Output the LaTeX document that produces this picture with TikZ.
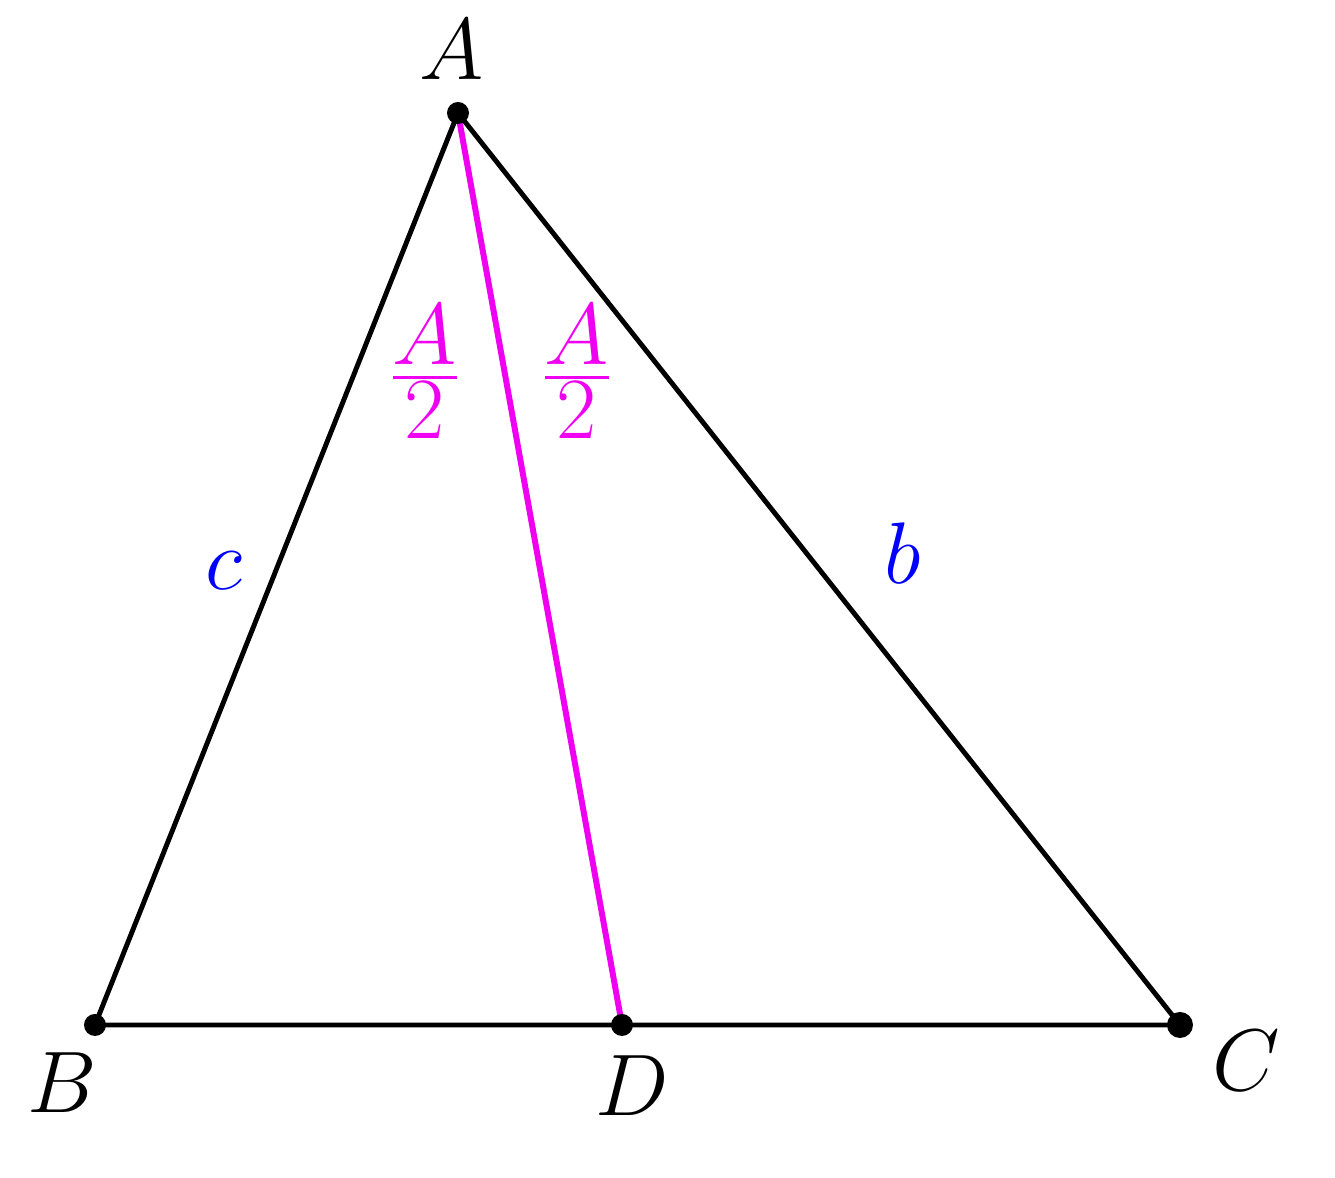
\documentclass[tikz,border=0pt]{standalone}
\usepackage{amsmath}
\usetikzlibrary{positioning}
\definecolor{bisect}{RGB}{240,0,240}
\definecolor{side}{RGB}{0,0,255}
\begin{document}
\begin{tikzpicture}[x=1cm,y=1cm,
		pt/.style={circle,fill=black,inner sep=0pt,minimum size=0.22cm},
		lbl/.style={font=\fontsize{25.5}{30}\selectfont},
		sidelbl/.style={side,font=\fontsize{29}{34}\selectfont},
		half/.style={bisect,font=\fontsize{37}{44}\selectfont}]
		\useasboundingbox (0,0) rectangle (13.35,11.78);
		% vertices and foot of the bisector
		\coordinate (A) at (4.58,10.65);
		\coordinate (B) at (0.95,1.53);
		\coordinate (C) at (11.80,1.53);
		\coordinate (D) at (6.22,1.53);
		\draw[line width=1.4pt] (A) -- (B) -- (C) -- cycle;
		\draw[bisect,line width=1.7pt] (A) -- (D);
		\node[pt] (dotA) at (A) {};
		\node[pt] (dotB) at (B) {};
		\node[pt,minimum size=0.26cm] (dotC) at (C) {};
		\node[pt] (dotD) at (D) {};
		% labels
		\node[lbl] (labA) at (4.52,11.28) {$A$};
		\node[lbl] (labB) at (0.62,0.95) {$B$};
		\node[lbl] (labC) at (12.46,1.17) {$C$};
		\node[lbl] (labD) at (6.32,0.92) {$D$};
		\node[sidelbl] (labc) at (2.24,6.07) {$c$};
		\node[sidelbl] (labb) at (9.03,6.25) {$b$};
		\node[half] (halfL) at (4.25,8.06) {$\frac{A}{2}$};
		\node[half] (halfR) at (5.77,8.06) {$\frac{A}{2}$};
	\end{tikzpicture}
\end{document}
